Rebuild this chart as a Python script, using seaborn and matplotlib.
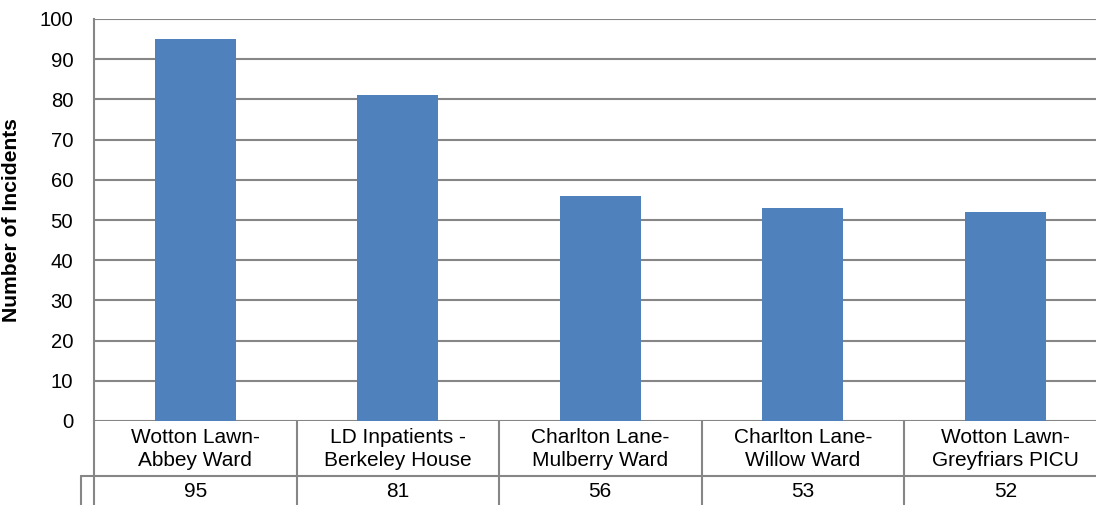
'''
Bar chart of incidents per ward, with an Excel-like data table beneath
'''

import pandas as pnd
import seaborn as sns
import matplotlib.pyplot as plt
from matplotlib.transforms import blended_transform_factory

# ----------------------
wards  = ['Wotton Lawn-\nAbbey Ward', 'LD Inpatients -\nBerkeley House',
          'Charlton Lane-\nMulberry Ward', 'Charlton Lane-\nWillow Ward',
          'Wotton Lawn-\nGreyfriars PICU']
counts = [95, 81, 56, 53, 52]
y_ticks = list(range(0, 101, 10))

bar_col  = '#4F81BD'
line_col = '#868686'
# ----------------------
def main():
    sns.set_style('white')
    plt.rcParams['font.family'] = ['Liberation Sans', 'DejaVu Sans']
    plt.rcParams['text.color'] = 'black'
    plt.rcParams['ytick.color'] = 'black'
    plt.rcParams['axes.labelcolor'] = 'black'

    fig = plt.figure(figsize=(10.96, 5.05), dpi=100)
    ax  = fig.add_axes([94 / 1096, 84 / 505, 1012.5 / 1096, 402 / 505])

    df = pnd.DataFrame({'ward': wards, 'count': counts})
    sns.barplot(data=df, x='ward', y='count', color=bar_col, width=0.4,
                saturation=1, linewidth=0, ax=ax, zorder=3)

    ax.set_xlim(-0.5, len(wards) - 0.5)
    ax.set_ylim(0, 100)
    ax.set_yticks(y_ticks)
    ax.set_yticklabels([str(v) for v in y_ticks], fontsize=14.6)
    ax.tick_params(axis='y', length=0, pad=15)
    ax.set_xticks([])
    ax.set_xlabel('')
    ax.set_ylabel('Number of Incidents', fontsize=15.2, fontweight='bold')
    ax.yaxis.set_label_coords(-73 / 1012.5, 0.5)
    ax.yaxis.grid(True, color=line_col, linewidth=1.5, zorder=0)

    for side in ['top', 'right', 'bottom']:
        ax.spines[side].set_visible(False)
    ax.spines['left'].set_color(line_col)
    ax.spines['left'].set_linewidth(1.5)

    # data table below the axes
    px  = 1 / 402
    trn = blended_transform_factory(ax.transData, ax.transAxes)
    row1 = -55 * px
    bot  = -90 * px
    for i, (name, val) in enumerate(zip(wards, counts)):
        ax.text(i, -28 * px, name, transform=trn, ha='center', va='center',
                fontsize=15, linespacing=1.3, clip_on=False)
        ax.text(i, -70.5 * px, str(val), transform=trn, ha='center', va='center',
                fontsize=15, clip_on=False)
    for b in [i - 0.5 for i in range(len(wards) + 1)]:
        ax.plot([b, b], [0, bot], transform=trn, color=line_col, lw=1.5, clip_on=False)
    key_x = -0.5 - 13 / 202.5
    ax.plot([key_x, len(wards) - 0.5], [row1, row1], transform=trn,
            color=line_col, lw=1.5, clip_on=False)
    ax.plot([key_x, key_x], [row1, bot], transform=trn, color=line_col, lw=1.5, clip_on=False)

    fig.savefig('out.png', dpi=100)
    plt.close(fig)
# ----------------------
if __name__ == '__main__':
    main()
